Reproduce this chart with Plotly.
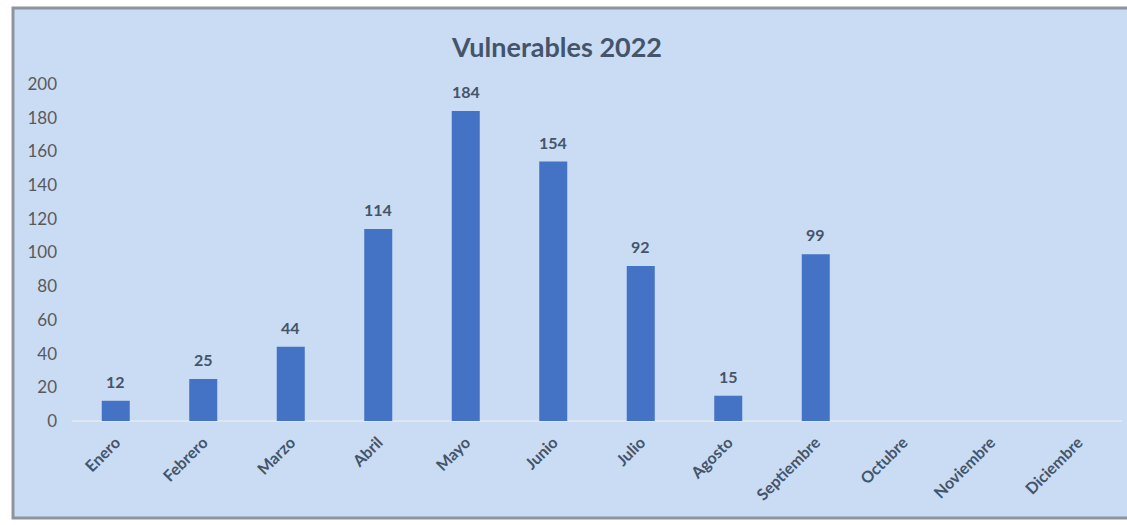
import plotly.graph_objects as go

months = ["Enero", "Febrero", "Marzo", "Abril", "Mayo", "Junio", "Julio",
          "Agosto", "Septiembre", "Octubre", "Noviembre", "Diciembre"]
values = [12, 25, 44, 114, 184, 154, 92, 15, 99, None, None, None]
y_ticks = [0, 20, 40, 60, 80, 100, 120, 140, 160, 180, 200]

W, H = 1127, 525
ml, mr, mt, mb = 72, 5, 84, 104
pw, ph = W - ml - mr, H - mt - mb

def px_x(p):
    return (p - ml) / pw

def px_y(p):
    return (H - mb - p) / ph

text_color = "#44546a"
fig = go.Figure()
fig.add_trace(go.Bar(
    x=months, y=values,
    marker=dict(color="#4472c4", line=dict(width=0)),
    width=0.32,
    hoverinfo="x+y",
))

for m, v in zip(months, values):
    if v is None:
        continue
    fig.add_annotation(x=m, y=v, text=f"<b>{v}</b>", showarrow=False,
                       yanchor="bottom", yshift=8,
                       font=dict(family="Lato", size=16, color=text_color))

fig.add_shape(type="rect", xref="paper", yref="paper", layer="below",
              x0=px_x(13), x1=px_x(1130), y0=px_y(518), y1=px_y(8),
              fillcolor="#c9dcf4", line=dict(color="#8d949c", width=3))

fig.update_layout(
    width=W, height=H,
    margin=dict(l=ml, r=mr, t=mt, b=mb),
    paper_bgcolor="white",
    plot_bgcolor="rgba(0,0,0,0)",
    showlegend=False,
    title=dict(text="<b>Vulnerables 2022</b>", x=557 / W, xanchor="center",
               y=1 - 48 / H, yanchor="middle",
               font=dict(family="Lato", size=27, color=text_color)),
    xaxis=dict(tickangle=-45, showgrid=False, showline=False, ticks="",
               tickmode="array", tickvals=months,
               ticktext=[f"<b>{m}</b>" for m in months],
               ticklabelstandoff=8,
               tickfont=dict(family="Lato", size=16, color=text_color)),
    yaxis=dict(range=[0, 200], tickvals=y_ticks, showgrid=False,
               zeroline=True, zerolinecolor="#dde6f2", zerolinewidth=1.5,
               showline=False, ticks="", ticklabelstandoff=14,
               tickfont=dict(family="Lato", size=17, color="#595959")),
    font=dict(family="Lato"),
)

fig.write_html("out.html", config={"displayModeBar": False},
               post_script="document.body.style.margin='0';document.body.style.padding='0';")
